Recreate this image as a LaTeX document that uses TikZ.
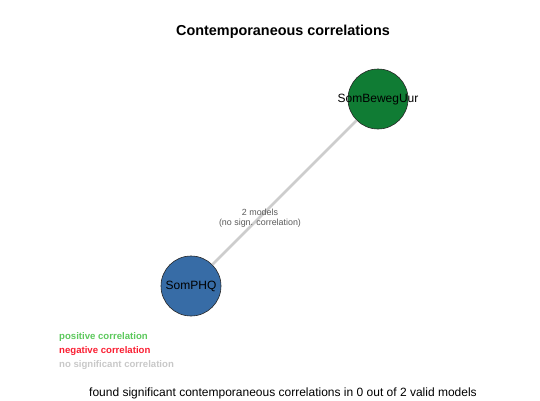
\documentclass[tikz,border=0pt]{standalone}
\usepackage{fontspec}
\setmainfont{Liberation Sans}
\definecolor{nodegreen}{RGB}{16,124,52}
\definecolor{nodeblue}{RGB}{55,108,166}
\definecolor{edgegray}{RGB}{205,205,205}
\definecolor{labgray}{RGB}{90,90,90}
\definecolor{posgreen}{RGB}{92,200,92}
\definecolor{negred}{RGB}{250,30,50}
\definecolor{nsgray}{RGB}{200,200,200}
\begin{document}
\begin{tikzpicture}[x=1pt,y=-1pt,
  varnode/.style={circle,draw=black!85,line width=0.6pt,minimum size=60pt,inner sep=0pt,font=\fontsize{12}{12}\selectfont},
  edgeline/.style={draw=edgegray,line width=2.6pt},
  edgelab/.style={font=\fontsize{8.9}{10.5}\selectfont,text=labgray,align=center},
  legend/.style={anchor=west,font=\bfseries\fontsize{9.6}{10}\selectfont,inner sep=0pt}]
\useasboundingbox (0,0) rectangle (540,400);
\node[font=\bfseries\fontsize{14.4}{14.4}\selectfont] (title) at (283,31.5) {Contemporaneous correlations};
\node[varnode,fill=nodegreen] (beweg) at (378,99) {};
\node[varnode,fill=nodeblue] (phq) at (191,286) {};
\draw[edgeline] (phq) -- (beweg);
\node[font=\fontsize{12}{12}\selectfont] (bewegl) at (378,99.5) {SomBewegUur};
\node[font=\fontsize{12}{12}\selectfont] (phql) at (191,286.5) {SomPHQ};
\node[edgelab] (elab) at (260,218) {2 models\\(no sign. correlation)};
\node[legend,text=posgreen] (lpos) at (59,337.5) {positive correlation};
\node[legend,text=negred] (lneg) at (59,351.5) {negative correlation};
\node[legend,text=nsgray] (lns) at (59,365.5) {no significant correlation};
\node[font=\fontsize{12}{12}\selectfont] (foot) at (283,393) {found significant contemporaneous correlations in 0 out of 2 valid models};
\end{tikzpicture}
\end{document}
